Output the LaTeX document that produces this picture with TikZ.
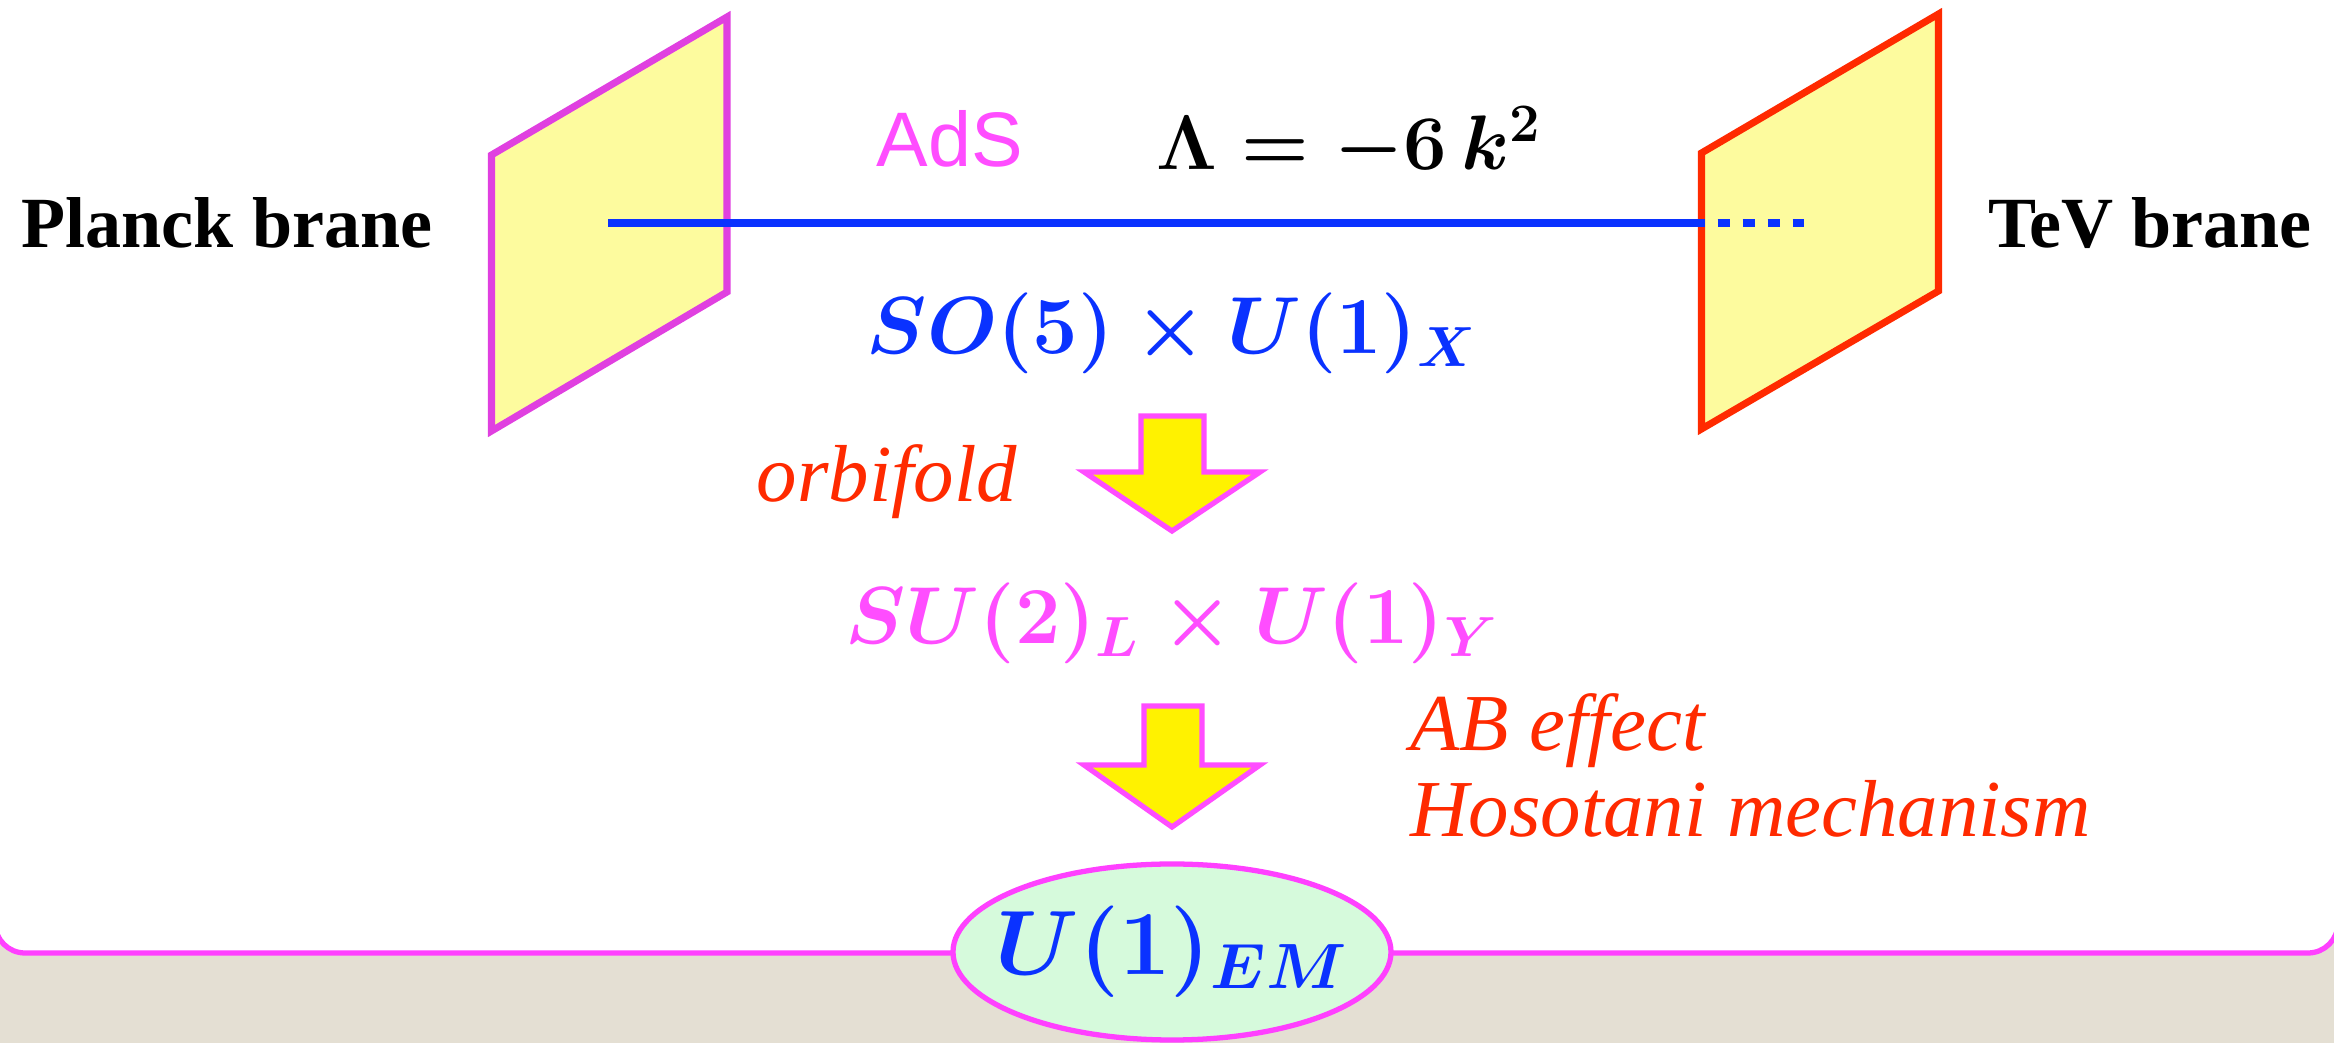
\RequirePackage{fix-cm}
\documentclass[tikz,border=0pt]{standalone}
\usepackage[no-math]{fontspec}
\setmainfont{Liberation Serif}
\newfontfamily\adsfont{Liberation Sans}
\usepackage{xcolor}
\usepackage{tikz}
\usetikzlibrary{positioning,shapes.geometric}
\definecolor{slidebg}{RGB}{228,223,211}
\definecolor{pinkline}{RGB}{255,64,255}
\definecolor{planckedge}{RGB}{224,64,224}
\definecolor{tevedge}{RGB}{255,42,0}
\definecolor{branefill}{RGB}{253,251,158}
\definecolor{bulkblue}{RGB}{10,50,255}
\definecolor{pinktext}{RGB}{255,77,255}
\definecolor{redtext}{RGB}{255,42,0}
\definecolor{emfill}{RGB}{214,250,220}
\tikzset{
    brane/.style={line width=2pt,fill=branefill},
    bulk/.style={draw=bulkblue,line width=2.3pt},
    branelabel/.style={font=\fontsize{20.5}{24}\selectfont\bfseries,anchor=base},
    grp/.style={font=\fontsize{23}{27}\selectfont\boldmath,anchor=base},
    mech/.style={font=\fontsize{23}{24.5}\selectfont\itshape,text=redtext,align=left},
    blockarr/.style={draw=pinktext,line width=1.5pt,fill=yellow},
    emnode/.style={ellipse,draw=pinkline,line width=1.5pt,fill=emfill,minimum width=4.38cm,minimum height=1.76cm,inner xsep=-0.26cm,inner ysep=0pt},
}
\begin{document}
\begin{tikzpicture}
\clip (0,0) rectangle (23.34,-10.43);
\fill[slidebg] (0,0) rectangle (23.34,-10.43);
\draw[pinkline,line width=1.5pt,fill=white,rounded corners=0.3cm] (-0.05,1) rectangle (23.38,-9.53);
% branes
\draw[brane,draw=planckedge] (4.915,-4.31) -- (4.915,-1.55) -- (7.27,-0.17) -- (7.27,-2.92) -- cycle;
\draw[brane,draw=tevedge] (17.015,-4.29) -- (17.015,-1.53) -- (19.385,-0.14) -- (19.385,-2.91) -- cycle;
% bulk line
\coordinate (bulkL) at (6.08,-2.23);
\coordinate (bulkR) at (17.05,-2.23);
\coordinate (bulkE) at (18.04,-2.23);
\draw[bulk] (bulkL) -- (bulkR);
\draw[bulk,dash pattern=on 0.125cm off 0.125cm,dash phase=0.125cm] (bulkR) -- (bulkE);
\node[branelabel] (planck) at (2.27,-2.48) {Planck brane};
\node[branelabel] (tev) at (21.50,-2.48) {TeV brane};
\node[font=\adsfont\fontsize{22}{26}\selectfont,text=pinktext,anchor=base] (ads) at (9.50,-1.67) {AdS};
\node[grp,font=\fontsize{22}{26}\selectfont\boldmath] (cc) at (13.49,-1.70) {$\Lambda=-6\,k^2$};
\node[grp,text=bulkblue] (bulkgrp) at (11.72,-3.54) {$SO(5)\times U(1)_X$};
% breaking steps
\draw[blockarr] (11.41,-4.16) -- (12.04,-4.16) -- (12.04,-4.72) -- (12.60,-4.72) -- (11.72,-5.31) -- (10.84,-4.72) -- (11.41,-4.72) -- cycle;
\node[mech,anchor=base] (orb) at (8.87,-5.02) {orbifold};
\node[grp,text=pinktext] (smgrp) at (11.72,-6.44) {$SU(2)_L\times U(1)_Y$};
\draw[blockarr] (11.44,-7.06) -- (12.02,-7.06) -- (12.02,-7.65) -- (12.60,-7.65) -- (11.72,-8.27) -- (10.84,-7.65) -- (11.44,-7.65) -- cycle;
\node[mech,anchor=base west] (hos) at (13.98,-8.37) {AB effect\\Hosotani mechanism};
\node[emnode,font=\fontsize{26}{30}\selectfont\boldmath,text=bulkblue] (em) at (11.72,-9.52) {$U(1)_{EM}$};
\end{tikzpicture}
\end{document}
